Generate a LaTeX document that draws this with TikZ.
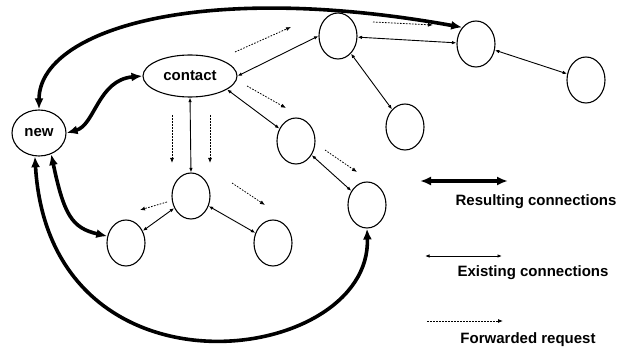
\documentclass[tikz,border=0pt]{standalone}
\usepackage{fontspec}
\setmainfont{Liberation Sans}
\usetikzlibrary{arrows.meta,shapes.geometric}
\begin{document}
\begin{tikzpicture}[x=1pt,y=-1pt,
  peer/.style={draw,ellipse,line width=1.1pt,inner sep=0pt,minimum width=38pt,minimum height=46pt},
  label/.style={font=\fontsize{15}{15}\selectfont\bfseries},
  existing/.style={line width=0.9pt,{Latex[length=4.5pt,width=3.5pt]}-{Latex[length=4.5pt,width=3.5pt]}},
  resulting/.style={line width=3.6pt,{Latex[length=11pt,width=9pt]}-{Latex[length=11pt,width=9pt]}},
  forwarded/.style={line width=0.8pt,dash pattern=on 1.6pt off 1.4pt,-{Latex[length=5pt,width=4pt]}}
]
\useasboundingbox (0,0) rectangle (632,352);

% peers
\node[peer,minimum width=54pt,minimum height=46pt,label] (new) at (39,133) {new};
\node[peer,minimum width=94pt,minimum height=42pt,label] (contact) at (190,76) {contact};
\node[peer] (A) at (338,36) {};
\node[peer] (B) at (476,44) {};
\node[peer] (C) at (586,80) {};
\node[peer] (D) at (405,127) {};
\node[peer] (E) at (296,141) {};
\node[peer] (F) at (191,196) {};
\node[peer] (G) at (126,243) {};
\node[peer] (H) at (273,243) {};
\node[peer] (I) at (367,205) {};

% existing overlay links
\draw[existing] (contact.east) -- (A.west);
\draw[existing] (contact.-20) -- (E);
\draw[existing] (contact.south) -- (F.north);
\draw[existing] (A) -- (B);
\draw[existing] (A) -- (D);
\draw[existing] (B) -- (C);
\draw[existing] (E) -- (I);
\draw[existing] (F) -- (G);
\draw[existing] (F) -- (H);

% forwarded join request
\coordinate (f1a) at (235,52);  \coordinate (f1b) at (291,27);
\coordinate (f2a) at (373,22);  \coordinate (f2b) at (433,25);
\coordinate (f3a) at (247,86);  \coordinate (f3b) at (286,108);
\coordinate (f4a) at (172,115); \coordinate (f4b) at (172,163);
\coordinate (f5a) at (210,115); \coordinate (f5b) at (210,163);
\coordinate (f6a) at (167,202); \coordinate (f6b) at (140,210);
\coordinate (f7a) at (232,183); \coordinate (f7b) at (265,205);
\coordinate (f8a) at (325,150); \coordinate (f8b) at (357,172);
\foreach \k in {1,...,8} \draw[forwarded] (f\k a) -- (f\k b);

% connections made by the new peer
\draw[resulting] (new.east) .. controls (95,125) and (98,80) .. (contact.west);
\draw[resulting] (new.north) .. controls (39,30) and (200,-20) .. (B.north west);
\draw[resulting] (new.-60) .. controls (64,215) and (72,228) .. (G.160);
\draw[resulting] (new.-100) .. controls (50,410) and (372,365) .. (I.south);

% legend
\coordinate (l1a) at (420,181); \coordinate (l1b) at (508,181);
\coordinate (l2a) at (425,256); \coordinate (l2b) at (502,256);
\coordinate (l3a) at (427,321); \coordinate (l3b) at (503,321);
\draw[resulting] (l1a) -- (l1b);
\draw[existing] (l2a) -- (l2b);
\draw[forwarded] (l3a) -- (l3b);
\node[label] (t1) at (536,202) {Resulting connections};
\node[label] (t2) at (533,273) {Existing connections};
\node[label] (t3) at (528,340) {Forwarded request};
\end{tikzpicture}
\end{document}
